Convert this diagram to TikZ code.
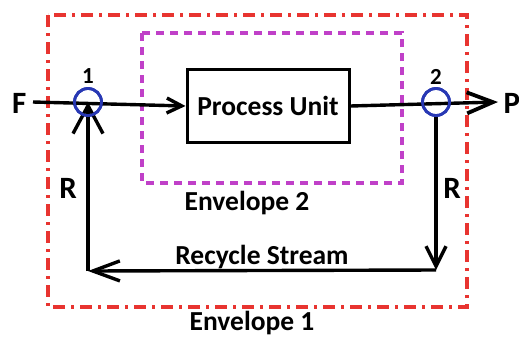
\documentclass[tikz,border=0pt]{standalone}
\usepackage{fontspec}
\setmainfont{Carlito}
\usetikzlibrary{arrows.meta}
\definecolor{envred}{RGB}{232,52,48}
\definecolor{envpurple}{RGB}{192,64,200}
\definecolor{jointblue}{RGB}{40,56,180}
\begin{document}
\begin{tikzpicture}[x=1pt,y=-1pt,line width=3.4pt,
  lbl/.style={font=\bfseries\fontsize{27.5}{29}\selectfont,inner sep=0pt},
  big/.style={font=\bfseries\fontsize{31}{33}\selectfont,inner sep=0pt},
  num/.style={font=\bfseries\fontsize{23}{25}\selectfont,inner sep=0pt},
  joint/.style={draw=jointblue,circle,line width=2.8pt,minimum size=27pt,inner sep=0pt},
  unit/.style={draw,line width=3pt,minimum width=162pt,minimum height=73pt,inner sep=0pt,font=\bfseries\fontsize{27.5}{29}\selectfont},
  redenv/.style={draw=envred,line width=3.2pt,dash pattern=on 12pt off 6pt on 3pt off 6pt},
  purpenv/.style={draw=envpurple,line width=3.2pt,dash pattern=on 8pt off 6pt}]
\useasboundingbox (0,0) rectangle (519,338);
% envelopes
\draw[redenv] (48,15) rectangle (467,307);
\draw[purpenv] (142,33) rectangle (402,183);
% nodes
\node[unit] (pu) at (268,106) {Process Unit};
\node[joint] (n1) at (88,102) {};
\node[joint] (n2) at (436,102) {};
\node[big,anchor=east] (F) at (28,103) {F};
\node[big,anchor=west] (P) at (502,103) {P};
\node[num] (l1) at (88,76) {1};
\node[num] (l2) at (436,77) {2};
\node[big] (R1) at (68,188) {R};
\node[big] (R2) at (452,188) {R};
\node[lbl] (e2) at (247,203) {Envelope 2};
\node[lbl] (rs) at (262,257) {Recycle Stream};
\node[lbl] (e1) at (252,323) {Envelope 1};
\coordinate (fstart) at (33,102);
\coordinate (pend) at (498,102);
\coordinate (c2) at (436,270);
\coordinate (c1) at (88,271);
% connectors
\draw[-{Straight Barb[length=15pt,width=15pt,line width=3.4pt]}] (fstart) -- (pu.west);
\draw[-{Straight Barb[length=26pt,width=21pt,line width=3.8pt]}] (pu.east) -- (pend);
\draw[-{Straight Barb[length=20pt,width=20pt,line width=3.4pt]}] (n2.south) -- (c2);
\draw[-{Straight Barb[length=27pt,width=20pt,line width=3.4pt]}] (c2) -- (c1);
\draw[-{Straight Barb[length=28pt,width=30pt,line width=3.4pt]}] (c1) -- (n1.center);
% redraw circles on top
\node[joint] at (n1) {};
\node[joint] at (n2) {};
\end{tikzpicture}
\end{document}
